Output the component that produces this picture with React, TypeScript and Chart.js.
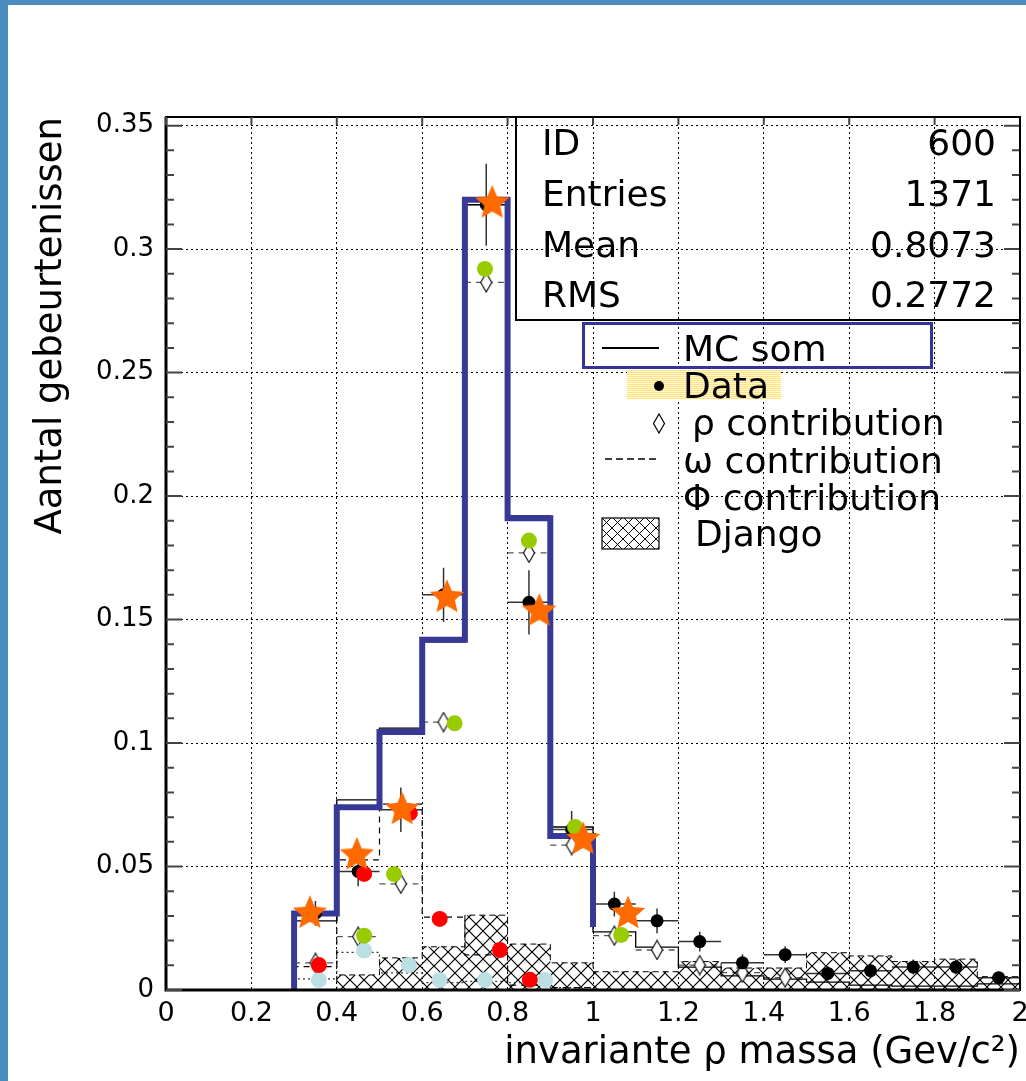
import React, { useEffect, useRef } from "react";
import { Chart, registerables } from "chart.js";

Chart.register(...registerables);

const FONT = "'DejaVu Sans', 'Liberation Sans', sans-serif";
const FRAME_BLUE = "#4C8BBD";
const MC_BLUE = "#383896";

// ---------- axis ticks ----------
const xTickValues = [0, 0.2, 0.4, 0.6, 0.8, 1, 1.2, 1.4, 1.6, 1.8, 2];
const xTickLabels = ["0", "0.2", "0.4", "0.6", "0.8", "1", "1.2", "1.4", "1.6", "1.8", "2"];
const yTickValues = [0, 0.05, 0.1, 0.15, 0.2, 0.25, 0.3, 0.35];
const yTickLabels = ["0", "0.05", "0.1", "0.15", "0.2", "0.25", "0.3", "0.35"];
const yMinorStep = 0.01;
const yMax = 0.3535;

const xAxisTitle = "invariante \u03c1 massa (Gev/c\u00b2)";
const yAxisTitle = "Aantal gebeurtenissen";

// ---------- histogram bins ----------
const binEdges = [0.3, 0.4, 0.5, 0.6, 0.7, 0.8, 0.9, 1.0, 1.1, 1.2, 1.3, 1.4, 1.5, 1.6, 1.7, 1.8, 1.9, 2.0];
const binCenters = [0.35, 0.45, 0.55, 0.65, 0.75, 0.85, 0.95, 1.05, 1.15, 1.25, 1.35, 1.45, 1.55, 1.65, 1.75, 1.85, 1.95];

// thick blue "MC som" line (0.3 - 1.0)
const mcSomValues = [0.031, 0.074, 0.1045, 0.1418, 0.32, 0.191, 0.0624];
const mcSomEndValue = 0.0255;

// thin solid MC total histogram
const mcTotalValues = [0.028, 0.077, 0.106, 0.141, 0.318, 0.192, 0.066, 0.0235, 0.0174, 0.0093, 0.0057, 0.0044, 0.0032, 0.002, 0.0016, 0.0016, 0.0025];

// hatched Django histogram
const djangoValues = [0, 0.0061, 0.013, 0.0175, 0.0303, 0.0186, 0.011, 0.0074, 0.0074, 0.0115, 0.0089, 0.0089, 0.0151, 0.0138, 0.0115, 0.0125, 0.0054];

// omega (dashed) and phi (dotted) histograms, 0.3 - 1.0
const omegaValues = [0.0095, 0.0527, 0.0753, 0.0295, 0.0142, 0.002, 0.001];
const phiValues = [0.0045, 0.0152, 0.0069, 0.003, 0.0035, 0.003, 0.001];

// data points with errors (bin centres)
const dataValues = [0.031, 0.048, 0.073, 0.16, 0.318, 0.157, 0.065, 0.0348, 0.028, 0.0196, 0.011, 0.0143, 0.0067, 0.0078, 0.0093, 0.0093, 0.005];
const dataErrors = [0.005, 0.006, 0.009, 0.011, 0.0166, 0.013, 0.0075, 0.005, 0.005, 0.004, 0.0035, 0.0034, 0.003, 0.003, 0.003, 0.003, 0.0025];

// rho contribution (open diamonds, bin centres)
const rhoValues = [0.011, 0.0216, 0.043, 0.1085, 0.2865, 0.177, 0.0587, 0.022, 0.0162, 0.0101, 0.007, 0.005];

// coloured overlay markers
const greenX = [0.464, 0.534, 0.676, 0.747, 0.85, 0.958, 1.066];
const greenY = [0.022, 0.0469, 0.108, 0.292, 0.182, 0.066, 0.0223];
const redX = [0.358, 0.464, 0.571, 0.641, 0.782, 0.852];
const redY = [0.0101, 0.047, 0.0716, 0.0288, 0.0162, 0.0041];
const lightBlueX = [0.358, 0.464, 0.569, 0.641, 0.747, 0.888];
const lightBlueY = [0.004, 0.016, 0.0101, 0.004, 0.004, 0.004];
const starX = [0.337, 0.447, 0.553, 0.658, 0.764, 0.874, 0.977, 1.082];
const starY = [0.0317, 0.0553, 0.0737, 0.1596, 0.3193, 0.154, 0.0616, 0.0316];

// stats box and legend text
const statsLabels = ["ID", "Entries", "Mean", "RMS"];
const statsValues = ["600", "1371", "0.8073", "0.2772"];
const legendLabels = ["MC som", "Data", "\u03c1 contribution", "\u03c9 contribution", "\u03a6 contribution", "Django"];

function stepLine(edges: number[], values: number[], endValue = 0) {
  const pts: { x: number; y: number }[] = [{ x: edges[0], y: 0 }];
  values.forEach((v, i) => {
    pts.push({ x: edges[i], y: v });
    pts.push({ x: edges[i + 1], y: v });
  });
  pts.push({ x: edges[values.length], y: endValue });
  return pts;
}

function pts(xs: number[], ys: number[]) {
  return xs.map((x, i) => ({ x, y: ys[i] }));
}

function makeHatch(): CanvasPattern | string {
  const c = document.createElement("canvas");
  c.width = 14;
  c.height = 14;
  const g = c.getContext("2d");
  if (!g) return "rgba(0,0,0,0.2)";
  g.strokeStyle = "#000";
  g.lineWidth = 1.2;
  g.beginPath();
  g.moveTo(-1, -1);
  g.lineTo(15, 15);
  g.moveTo(15, -1);
  g.lineTo(-1, 15);
  g.stroke();
  return g.createPattern(c, "repeat") || "rgba(0,0,0,0.2)";
}

function makeStar(color: string) {
  const size = 40;
  const c = document.createElement("canvas");
  c.width = size;
  c.height = size;
  const g = c.getContext("2d")!;
  const R = 18;
  const r = R * 0.46;
  const cx = size / 2;
  const cy = size / 2 + R * 0.09;
  g.beginPath();
  for (let k = 0; k < 10; k++) {
    const a = -Math.PI / 2 + (k * Math.PI) / 5;
    const rad = k % 2 === 0 ? R : r;
    g.lineTo(cx + rad * Math.cos(a), cy + rad * Math.sin(a));
  }
  g.closePath();
  g.fillStyle = color;
  g.fill();
  return c;
}

function makeDiamond() {
  const w = 14;
  const h = 21;
  const c = document.createElement("canvas");
  c.width = w;
  c.height = h;
  const g = c.getContext("2d")!;
  g.beginPath();
  g.moveTo(w / 2, 1);
  g.lineTo(w - 1.5, h / 2);
  g.lineTo(w / 2, h - 1);
  g.lineTo(1.5, h / 2);
  g.closePath();
  g.fillStyle = "#fff";
  g.fill();
  g.strokeStyle = "#111";
  g.lineWidth = 1.2;
  g.stroke();
  return c;
}

const framePlugin = {
  id: "rootFrame",
  beforeDatasetsDraw(chart: any) {
    const { ctx } = chart;
    const x = chart.scales.x;
    const y = chart.scales.y;
    ctx.save();
    // rho dashed horizontal bars
    ctx.strokeStyle = "#555";
    ctx.lineWidth = 1.3;
    ctx.setLineDash([6, 5]);
    rhoValues.forEach((v, i) => {
      const py = y.getPixelForValue(v);
      ctx.beginPath();
      ctx.moveTo(x.getPixelForValue(binEdges[i]), py);
      ctx.lineTo(x.getPixelForValue(binEdges[i + 1]), py);
      ctx.stroke();
    });
    ctx.setLineDash([]);
    // data error bars
    ctx.strokeStyle = "#333";
    ctx.lineWidth = 1.5;
    dataValues.forEach((v, i) => {
      const py = y.getPixelForValue(v);
      const px = x.getPixelForValue(binCenters[i]);
      ctx.beginPath();
      ctx.moveTo(x.getPixelForValue(binEdges[i]), py);
      ctx.lineTo(x.getPixelForValue(binEdges[i + 1]), py);
      ctx.moveTo(px, y.getPixelForValue(v - dataErrors[i]));
      ctx.lineTo(px, y.getPixelForValue(v + dataErrors[i]));
      ctx.stroke();
    });
    ctx.restore();
  },
  afterDraw(chart: any) {
    const { ctx, chartArea: a } = chart;
    const x = chart.scales.x;
    const y = chart.scales.y;
    ctx.save();
    ctx.strokeStyle = "#000";
    ctx.lineWidth = 2;
    ctx.strokeRect(a.left, a.top, a.right - a.left, a.bottom - a.top);
    ctx.lineWidth = 3;
    ctx.beginPath();
    ctx.moveTo(a.left, a.top);
    ctx.lineTo(a.left, a.bottom);
    ctx.lineTo(a.right, a.bottom);
    ctx.stroke();
    ctx.strokeStyle = "#444";
    ctx.lineWidth = 2;
    const n = Math.floor(yMax / yMinorStep + 1e-6);
    for (let k = 0; k <= n; k++) {
      const py = y.getPixelForValue(k * yMinorStep);
      const len = k % 5 === 0 ? 16 : 8;
      ctx.beginPath();
      ctx.moveTo(a.left, py);
      ctx.lineTo(a.left + len, py);
      ctx.moveTo(a.right, py);
      ctx.lineTo(a.right - len, py);
      ctx.stroke();
    }
    xTickValues.forEach((v) => {
      const px = x.getPixelForValue(v);
      ctx.beginPath();
      ctx.moveTo(px, a.top);
      ctx.lineTo(px, a.top + 8);
      ctx.stroke();
    });
    ctx.restore();
  },
};

const textStyle = (left: number, cy: number, size = 36): React.CSSProperties => ({
  position: "absolute",
  left,
  top: cy,
  transform: "translateY(-50%)",
  fontSize: size,
  lineHeight: 1,
  whiteSpace: "nowrap",
  color: "#000",
  fontFamily: FONT,
});

export default function App() {
  const ref = useRef<HTMLCanvasElement>(null);

  useEffect(() => {
    const canvas = ref.current;
    if (!canvas) return;
    const hatch = makeHatch();
    const star = makeStar("#FF6A00");
    const diamond = makeDiamond();

    const chart = new Chart(canvas, {
      type: "scatter",
      data: {
        datasets: [
          {
            label: "stars",
            data: pts(starX, starY),
            pointStyle: star as any,
            pointRadius: 16,
            showLine: false,
            order: 0,
          },
          {
            label: "green",
            data: pts(greenX, greenY),
            pointRadius: 8,
            backgroundColor: "#99CC00",
            borderWidth: 0,
            showLine: false,
            order: 2,
          },
          {
            label: "red",
            data: pts(redX, redY),
            pointRadius: 8,
            backgroundColor: "#FF0000",
            borderWidth: 0,
            showLine: false,
            order: 3,
          },
          {
            label: "lightblue",
            data: pts(lightBlueX, lightBlueY),
            pointRadius: 8,
            backgroundColor: "#BCDFE4",
            borderWidth: 0,
            showLine: false,
            order: 4,
          },
          {
            label: "Data",
            data: pts(binCenters, dataValues),
            pointRadius: 6.5,
            backgroundColor: "#000",
            borderWidth: 0,
            showLine: false,
            order: 5,
          },
          {
            label: "rho",
            data: pts(binCenters.slice(0, rhoValues.length), rhoValues),
            pointStyle: diamond as any,
            pointRadius: 8,
            showLine: false,
            order: 6,
          },
          {
            label: "MC som",
            data: stepLine(binEdges, mcSomValues, mcSomEndValue),
            showLine: true,
            borderColor: MC_BLUE,
            borderWidth: 6,
            pointRadius: 0,
            fill: false,
            order: 7,
          },
          {
            label: "MC total",
            data: stepLine(binEdges, mcTotalValues),
            showLine: true,
            borderColor: "#000",
            borderWidth: 1.3,
            pointRadius: 0,
            fill: false,
            order: 8,
          },
          {
            label: "omega",
            data: stepLine(binEdges, omegaValues),
            showLine: true,
            borderColor: "#000",
            borderWidth: 1.2,
            borderDash: [6, 5],
            pointRadius: 0,
            fill: false,
            order: 9,
          },
          {
            label: "phi",
            data: stepLine(binEdges, phiValues),
            showLine: true,
            borderColor: "#333",
            borderWidth: 1.2,
            borderDash: [2, 3],
            pointRadius: 0,
            fill: false,
            order: 10,
          },
          {
            label: "Django",
            data: stepLine(binEdges, djangoValues),
            showLine: true,
            borderColor: "#000",
            borderWidth: 1,
            borderDash: [6, 4],
            backgroundColor: hatch as any,
            pointRadius: 0,
            fill: "origin",
            order: 11,
          },
        ],
      },
      options: {
        responsive: false,
        animation: false,
        devicePixelRatio: 1,
        events: [],
        layout: { autoPadding: false, padding: { left: 8, top: 117, right: 6, bottom: 0 } },
        plugins: {
          legend: { display: false },
          tooltip: { enabled: false },
          title: { display: false },
        },
        scales: {
          x: {
            type: "linear",
            min: 0,
            max: 2,
            afterBuildTicks: (s: any) => {
              s.ticks = xTickValues.map((v) => ({ value: v }));
            },
            afterFit: (s: any) => {
              s.height = 91;
              s.paddingLeft = 0;
              s.paddingRight = 0;
            },
            grid: { color: "#000", lineWidth: 1, drawTicks: false },
            border: { display: false, dash: [2, 3] },
            ticks: {
              callback: (_v: any, i: number) => xTickLabels[i],
              font: { family: FONT, size: 27 },
              color: "#000",
              padding: 8,
              maxRotation: 0,
              autoSkip: false,
            },
            title: {
              display: true,
              text: xAxisTitle,
              align: "end",
              color: "#000",
              font: { family: FONT, size: 37 },
              padding: { top: 0, bottom: 5 },
            },
          },
          y: {
            type: "linear",
            min: 0,
            max: yMax,
            afterBuildTicks: (s: any) => {
              s.ticks = yTickValues.map((v) => ({ value: v }));
            },
            afterFit: (s: any) => {
              s.width = 158;
              s.paddingTop = 0;
              s.paddingBottom = 0;
            },
            grid: { color: "#000", lineWidth: 1, drawTicks: false },
            border: { display: false, dash: [2, 3] },
            ticks: {
              callback: (_v: any, i: number) => yTickLabels[i],
              font: { family: FONT, size: 26 },
              color: "#000",
              padding: 12,
              autoSkip: false,
            },
            title: {
              display: true,
              text: yAxisTitle,
              align: "end",
              color: "#000",
              font: { family: FONT, size: 37 },
              padding: { top: 21, bottom: 0 },
            },
          },
        },
      } as any,
      plugins: [framePlugin],
    });
    return () => chart.destroy();
  }, []);

  const statsRowsY = [143, 193.5, 245, 295];

  return (
    <div
      style={{
        position: "fixed",
        left: 0,
        top: 0,
        width: 1026,
        height: 1081,
        background: "#fff",
        overflow: "hidden",
        fontFamily: FONT,
      }}
    >
      <canvas
        ref={ref}
        width={1026}
        height={1081}
        style={{ position: "absolute", left: 0, top: 0, width: 1026, height: 1081 }}
      />
      <div style={{ position: "absolute", left: 0, top: 0, width: 8, height: 1081, background: FRAME_BLUE }} />
      <div style={{ position: "absolute", left: 0, top: 0, width: 1026, height: 5, background: FRAME_BLUE }} />

      {/* stats box */}
      <div
        style={{
          position: "absolute",
          left: 515,
          top: 116,
          width: 506,
          height: 205,
          border: "2px solid #000",
          boxSizing: "border-box",
        }}
      />
      {statsLabels.map((l, i) => (
        <div key={"sl" + i} style={textStyle(542, statsRowsY[i])}>
          {l}
        </div>
      ))}
      {statsValues.map((v, i) => (
        <div
          key={"sv" + i}
          style={{ ...textStyle(0, statsRowsY[i]), left: undefined, right: 1026 - 996, textAlign: "right" }}
        >
          {v}
        </div>
      ))}

      {/* legend */}
      <div
        style={{
          position: "absolute",
          left: 582,
          top: 322,
          width: 351,
          height: 47,
          border: "3px solid #333399",
          boxSizing: "border-box",
        }}
      />
      <div style={{ position: "absolute", left: 602, top: 347, width: 57, height: 2, background: "#000" }} />
      <div style={textStyle(683, 349)}>{legendLabels[0]}</div>

      <div
        style={{
          position: "absolute",
          left: 627,
          top: 370,
          width: 154,
          height: 29,
          backgroundImage:
            "repeating-linear-gradient(0deg, #FFE27A 0px, #FFE27A 1px, #FFF8DC 1px, #FFF8DC 2px)",
        }}
      />
      <div
        style={{ position: "absolute", left: 654, top: 381, width: 10, height: 10, borderRadius: 5, background: "#000" }}
      />
      <div style={textStyle(683, 386)}>{legendLabels[1]}</div>

      <svg style={{ position: "absolute", left: 652, top: 413 }} width={14} height={21}>
        <polygon points="7,1 12.5,10.5 7,20 1.5,10.5" fill="#fff" stroke="#000" strokeWidth={1.2} />
      </svg>
      <div style={textStyle(692, 423)}>{legendLabels[2]}</div>

      <svg style={{ position: "absolute", left: 604, top: 455 }} width={57} height={8}>
        <line x1={1} y1={4} x2={56} y2={4} stroke="#000" strokeWidth={1.3} strokeDasharray="7 4" />
      </svg>
      <div style={textStyle(683, 461)}>{legendLabels[3]}</div>

      <div style={textStyle(683, 498)}>{legendLabels[4]}</div>

      <svg style={{ position: "absolute", left: 601, top: 517 }} width={59} height={33}>
        <defs>
          <pattern id="xhatch" width="11" height="11" patternUnits="userSpaceOnUse">
            <path d="M-1,-1 L12,12 M12,-1 L-1,12" stroke="#000" strokeWidth={1} />
          </pattern>
        </defs>
        <rect x={1} y={1} width={57} height={31} fill="url(#xhatch)" stroke="#000" strokeWidth={1.2} />
      </svg>
      <div style={textStyle(695, 534)}>{legendLabels[5]}</div>
    </div>
  );
}
